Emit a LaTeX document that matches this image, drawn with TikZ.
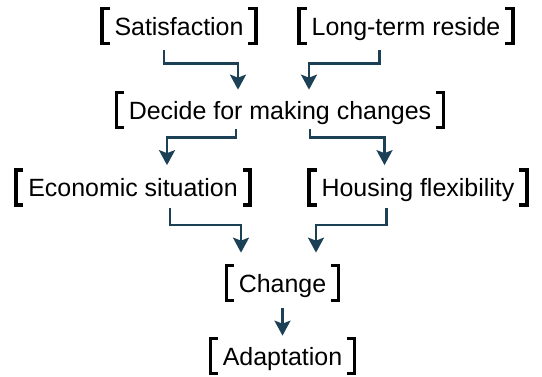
\documentclass[tikz,border=0pt]{standalone}
\usepackage{fontspec}
\setmainfont{Liberation Sans}
\usetikzlibrary{arrows.meta}
\definecolor{flowblue}{RGB}{28,64,86}

\begin{document}
\begin{tikzpicture}[
	box/.style={inner xsep=0.24cm, inner ysep=0pt, text height=0.52cm, text depth=0.16cm,
		font=\fontsize{14.2}{17}\selectfont},
	brk/.style={line width=2.1pt, black, line join=miter},
	flow/.style={line width=1.4pt, flowblue, -{Stealth[length=0.3cm, width=0.32cm, inset=0.06cm]}}
	]
	\useasboundingbox (0,0) rectangle (10.84,7.52);
	
	% factors
	\node[box] (sat) at (3.58,7.00) {Satisfaction};
	\node[box] (res) at (8.12,7.00) {Long-term reside};
	\node[box] (dec) at (5.60,5.32) {Decide for making changes};
	\node[box] (eco) at (2.66,3.77) {Economic situation};
	\node[box] (hou) at (8.36,3.77) {Housing flexibility};
	\node[box] (cha) at (5.65,1.86) {Change};
	\node[box] (ada) at (5.65,0.40) {Adaptation};
	
	% brackets
	\foreach \n in {sat,res,dec,eco,hou,cha,ada}{
		\draw[brk] ([xshift=0.15cm]\n.north west) -- (\n.north west) -- (\n.south west) -- ++(0.15cm,0);
		\draw[brk] ([xshift=-0.15cm]\n.north east) -- (\n.north east) -- (\n.south east) -- ++(-0.15cm,0);
	}
	
	% connectors
	\draw[flow] ([xshift=-0.30cm,yshift=-0.14cm]sat.south) -- ++(0,-0.26) -| ([xshift=-0.84cm,yshift=0.06cm]dec.north);
	\draw[flow] ([xshift=-0.53cm,yshift=-0.14cm]res.south) -- ++(0,-0.26) -| ([xshift=0.58cm,yshift=0.06cm]dec.north);
	\draw[flow] ([xshift=-0.88cm,yshift=-0.04cm]dec.south) -- ++(0,-0.16) -| ([xshift=0.68cm,yshift=0.1cm]eco.north);
	\draw[flow] ([xshift=0.60cm,yshift=-0.04cm]dec.south) -- ++(0,-0.16) -| ([xshift=-0.67cm,yshift=0.1cm]hou.north);
	\draw[flow] ([xshift=0.74cm,yshift=-0.06cm]eco.south) -- ++(0,-0.34) -| ([xshift=-0.83cm,yshift=0.26cm]cha.north);
	\draw[flow] ([xshift=-0.63cm,yshift=-0.06cm]hou.south) -- ++(0,-0.34) -| ([xshift=0.67cm,yshift=0.26cm]cha.north);
	\draw[flow] ([yshift=-0.16cm]cha.south) -- ([yshift=0.06cm]ada.north);
\end{tikzpicture}
\end{document}
